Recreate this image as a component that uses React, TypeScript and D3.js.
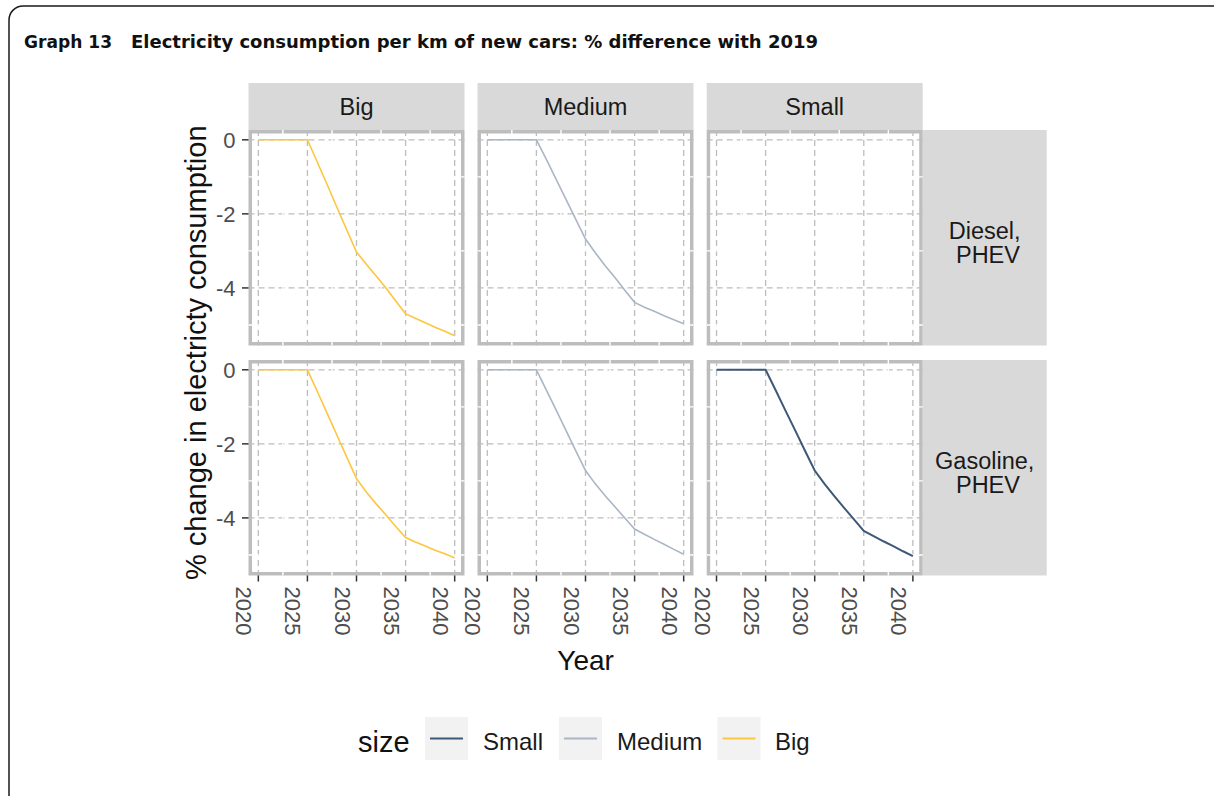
import React from "react";
import * as d3 from "d3";

const years = d3.range(2020, 2041);
const columns = ["Big", "Medium", "Small"];
const rows = ["Diesel,\n PHEV", "Gasoline,\n PHEV"];
const sizeKeys = ["Small", "Medium", "Big"];
const sizeColors = ["#3e5878", "#aab6c6", "#fdc63f"];

const bigDiesel = [0, 0, 0, 0, 0, 0, -0.6, -1.2, -1.82, -2.43, -3.03, -3.36, -3.68, -4.0, -4.35, -4.7, -4.82, -4.94, -5.06, -5.17, -5.29];
const mediumDiesel = [0, 0, 0, 0, 0, 0, -0.52, -1.06, -1.6, -2.14, -2.68, -3.05, -3.4, -3.72, -4.06, -4.39, -4.52, -4.63, -4.75, -4.86, -4.97];
const smallDiesel: number[] = [];
const bigGasoline = [0, 0, 0, 0, 0, 0, -0.58, -1.17, -1.76, -2.35, -2.94, -3.3, -3.62, -3.92, -4.23, -4.53, -4.65, -4.76, -4.87, -4.97, -5.08];
const mediumGasoline = [0, 0, 0, 0, 0, 0, -0.54, -1.08, -1.63, -2.18, -2.72, -3.08, -3.4, -3.7, -4.0, -4.3, -4.44, -4.58, -4.71, -4.85, -4.98];
const smallGasoline = [0, 0, 0, 0, 0, 0, -0.54, -1.09, -1.63, -2.18, -2.72, -3.08, -3.41, -3.73, -4.04, -4.35, -4.49, -4.63, -4.76, -4.9, -5.03];

const xTicks = [2020, 2025, 2030, 2035, 2040];
const xMinor = [2022.5, 2027.5, 2032.5, 2037.5];
const yTicks = [0, -2, -4];
const yMinor = [-1, -3, -5];

const panelData = [
  [bigDiesel, mediumDiesel, smallDiesel],
  [bigGasoline, mediumGasoline, smallGasoline],
];

const colX = [248.5, 477.5, 706.7];
const rowY = [130, 360];
const panelW = 216;
const panelH = 215.5;
const stripTop = 83;
const stripH = 47;
const rowStripW = 124;

const FONT = "Liberation Sans, Arial, sans-serif";

export default function App() {
  const allVals = panelData.flat().flat();
  const minV = d3.min(allVals) as number;
  const maxV = d3.max(allVals) as number;
  const ey = (maxV - minV) * 0.05;
  const x = d3.scaleLinear().domain([2019, 2041]).range([0, panelW]);
  const y = d3.scaleLinear().domain([maxV + ey, minV - ey]).range([0, panelH]);
  const line = d3
    .line<number>()
    .x((_, i) => x(years[i]))
    .y((d) => y(d));

  const rowStripX = colX[2] + panelW;

  return (
    <svg width={1214} height={796} style={{ position: "absolute", left: 0, top: 0 }} fontFamily={FONT}>
      <rect x={0} y={0} width={1214} height={796} fill="#fff" />
      <rect x={9} y={6} width={1222} height={806} rx={14} ry={14} fill="none" stroke="#1a1a1a" strokeWidth={1.5} />
      <text x={24} y={48} fontFamily="DejaVu Sans, sans-serif" fontWeight="bold" fontSize={18} textLength={88} lengthAdjust="spacingAndGlyphs" fill="#111">
        Graph 13
      </text>
      <text x={131} y={48} fontFamily="DejaVu Sans, sans-serif" fontWeight="bold" fontSize={18} textLength={687} lengthAdjust="spacingAndGlyphs" fill="#111">
        Electricity consumption per km of new cars: % difference with 2019
      </text>

      {/* column strips */}
      {columns.map((c, ci) => (
        <g key={c}>
          <rect x={colX[ci]} y={stripTop} width={panelW} height={stripH} fill="#d9d9d9" />
          <text x={colX[ci] + panelW / 2} y={stripTop + stripH / 2 + 8} textAnchor="middle" fontSize={23.5} fill="#1a1a1a">
            {c}
          </text>
        </g>
      ))}

      {/* row strips */}
      {rows.map((r, ri) => (
        <g key={r}>
          <rect x={rowStripX} y={rowY[ri]} width={rowStripW} height={panelH} fill="#d9d9d9" />
          <text textAnchor="middle" fontSize={23.5} fill="#1a1a1a" style={{ whiteSpace: "pre" }}>
            {r.split("\n").map((ln, li) => (
              <tspan key={li} x={rowStripX + rowStripW / 2} y={rowY[ri] + panelH / 2 + 1 + li * 24.5}>
                {ln}
              </tspan>
            ))}
          </text>
        </g>
      ))}

      {/* panels */}
      {rows.map((r, ri) =>
        columns.map((c, ci) => {
          const px = colX[ci];
          const py = rowY[ri];
          const vals = panelData[ri][ci];
          return (
            <g key={r + c} transform={`translate(${px},${py})`}>
              <rect x={0} y={0} width={panelW} height={panelH} fill="#fff" />
              {xTicks.map((t) => (
                <line key={"gx" + t} x1={x(t)} x2={x(t)} y1={0} y2={panelH} stroke="#bdbdbd" strokeWidth={1.3} strokeDasharray="6,4" />
              ))}
              {yTicks.map((t) => (
                <line key={"gy" + t} x1={0} x2={panelW} y1={y(t)} y2={y(t)} stroke="#bdbdbd" strokeWidth={1.3} strokeDasharray="6,4" />
              ))}
              <rect x={1.75} y={1.75} width={panelW - 3.5} height={panelH - 3.5} fill="none" stroke="#bdbdbd" strokeWidth={3.5} />
              {xMinor.map((t) => (
                <line key={"mx" + t} x1={x(t)} x2={x(t)} y1={0} y2={panelH} stroke="#fff" strokeWidth={1.4} />
              ))}
              {yMinor.map((t) => (
                <line key={"my" + t} x1={0} x2={panelW} y1={y(t)} y2={y(t)} stroke="#fff" strokeWidth={1.4} />
              ))}
              {vals.length > 0 && (
                <path d={line(vals) || ""} fill="none" stroke={sizeColors[sizeKeys.indexOf(c)]} strokeWidth={c === "Small" ? 2 : 1.6} />
              )}
              {ci === 0 &&
                yTicks.map((t) => (
                  <g key={"yt" + t}>
                    <line x1={-6.5} x2={0} y1={y(t)} y2={y(t)} stroke="#333" strokeWidth={1.5} />
                    <text x={-13} y={y(t)} dy="0.36em" textAnchor="end" fontSize={22} fill="#4d4d4d">
                      {t}
                    </text>
                  </g>
                ))}
              {ri === 1 &&
                xTicks.map((t) => (
                  <g key={"xt" + t}>
                    <line x1={x(t)} x2={x(t)} y1={panelH} y2={panelH + 6} stroke="#333" strokeWidth={1.5} />
                    <text
                      transform={`translate(${x(t) - 22},${panelH + 11}) rotate(90)`}
                      textAnchor="start"
                      fontSize={22}
                      fill="#4d4d4d"
                    >
                      {t}
                    </text>
                  </g>
                ))}
            </g>
          );
        })
      )}

      {/* axis titles */}
      <text transform={`translate(206,${(rowY[0] + rowY[1] + panelH) / 2}) rotate(-90)`} textAnchor="middle" fontSize={29} fill="#111">
        % change in electricty consumption
      </text>
      <text x={(colX[0] + colX[2] + panelW) / 2} y={670} textAnchor="middle" fontSize={28} fill="#111">
        Year
      </text>

      {/* legend */}
      <text x={358} y={752} fontSize={29} fill="#111">
        size
      </text>
      {sizeKeys.map((k, i) => {
        const kx = [425, 559, 717.5][i];
        const tx = [483, 617, 775][i];
        return (
          <g key={k}>
            <rect x={kx} y={717} width={43} height={43} fill="#f2f2f2" />
            <line x1={kx + 5} x2={kx + 38} y1={738.5} y2={738.5} stroke={sizeColors[i]} strokeWidth={2} />
            <text x={tx} y={750} fontSize={24} fill="#1a1a1a">
              {k}
            </text>
          </g>
        );
      })}
    </svg>
  );
}
